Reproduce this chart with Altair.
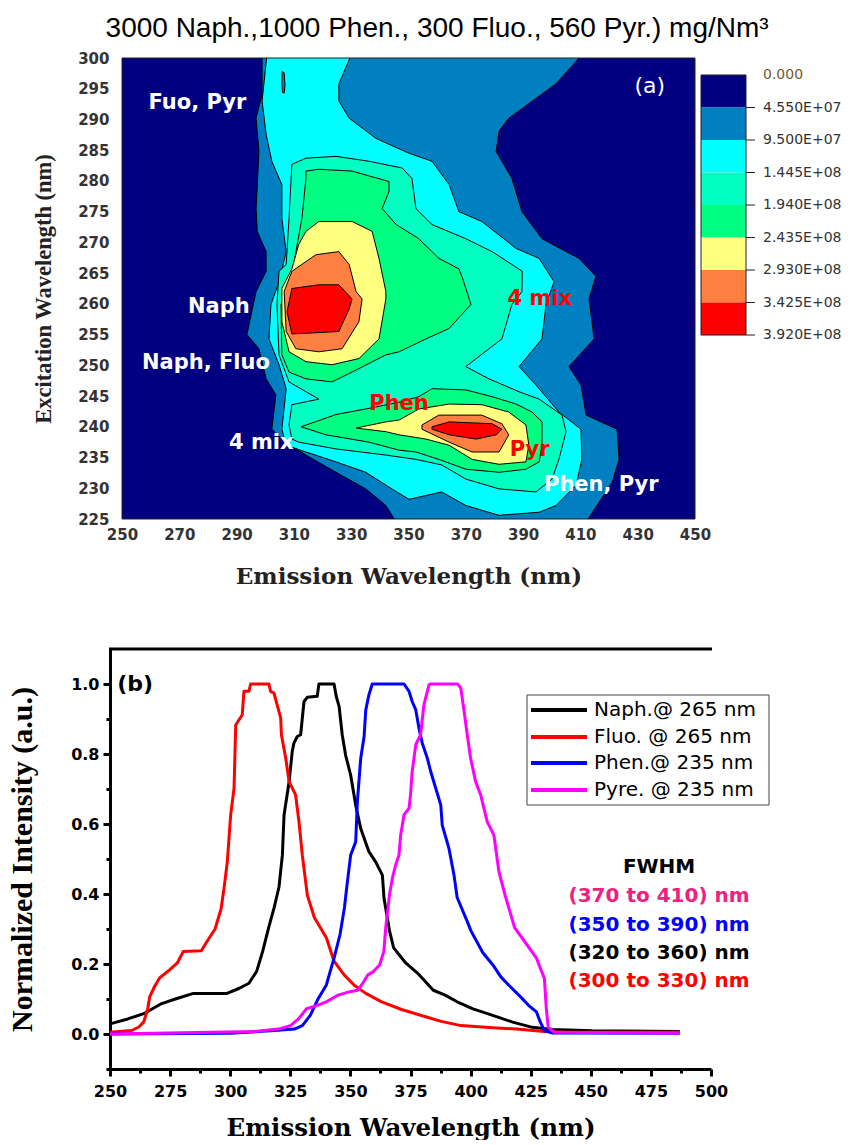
import altair as alt
import pandas as pd

SANS = "DejaVu Sans"
SERIF_H = "DejaVu Serif"
SERIF_V = "Liberation Serif"

# ================= Panel (a): excitation-emission contour map =================
title_a = "3000 Naph.,1000 Phen., 300 Fluo., 560 Pyr.) mg/Nm³"

level_colors = ["#000080", "#0080C0", "#00FFFF", "#00FFC0", "#00FF80",
                "#FFFF80", "#FF8040", "#FF0000"]
level_labels = ["0.000", "4.550E+07", "9.500E+07", "1.445E+08", "1.940E+08",
                "2.435E+08", "2.930E+08", "3.425E+08", "3.920E+08"]
level_label_colors = ["#6E5A28"] + ["#333333"] * 8

# contour outlines: (emission nm, excitation nm)
poly_l1 = [(298.9, 300.5), (298.9, 294.1), (296.8, 290.2), (297.8, 284.8), (296.8, 275.5),
           (297.2, 271.8), (300.3, 268.5), (300.3, 265.3), (296.8, 262.0), (293.6, 255.0),
           (297.8, 252.7), (300.3, 247.8), (303.7, 245.2), (302.3, 239.6), (305.8, 238.0),
           (314.2, 235.4), (324.7, 232.6), (335.1, 229.9), (342.1, 227.2), (345.7, 224.5),
           (412.0, 224.5), (416.5, 227.7), (421.1, 231.0), (423.5, 234.7), (422.8, 239.6),
           (412.0, 241.9), (410.2, 246.8), (406.0, 249.8), (414.8, 254.3), (413.0, 260.8),
           (415.4, 264.5), (409.5, 267.4), (396.6, 270.6), (389.6, 275.0), (386.1, 280.4),
           (380.6, 284.8), (381.6, 288.1), (385.0, 290.2), (401.5, 295.8), (410.5, 300.5)]
poly_l1_sliver = [(305.9, 297.8), (306.6, 297.6), (306.9, 295.5), (306.6, 294.3),
                  (306.0, 294.4), (305.8, 296.0)]
poly_l2 = [(300.6, 300.5), (298.9, 293.0), (300.3, 287.6), (302.3, 283.2), (305.8, 279.4),
           (305.8, 273.9), (307.3, 268.5), (304.8, 263.6), (302.0, 259.9), (301.3, 254.3),
           (304.8, 250.1), (307.3, 246.2), (305.8, 239.6), (307.3, 237.0), (314.2, 235.9),
           (324.7, 234.3), (335.1, 232.6), (344.2, 229.9), (350.2, 228.2), (361.6, 229.4),
           (370.0, 227.2), (381.6, 225.6), (395.6, 226.1), (401.5, 227.2), (408.5, 230.5),
           (410.5, 234.7), (410.2, 239.6), (402.5, 242.4), (394.5, 246.8), (388.6, 249.8),
           (396.6, 254.3), (398.0, 259.9), (400.8, 263.6), (395.6, 267.4), (387.6, 269.0),
           (375.6, 273.4), (367.6, 275.0), (364.2, 279.4), (358.2, 283.2), (350.2, 284.5),
           (338.7, 286.9), (329.3, 290.2), (325.7, 293.0), (325.7, 295.8), (330.0, 300.5)]
poly_l3 = [(309.3, 282.7), (314.2, 283.7), (324.7, 284.0), (336.2, 283.2), (347.8, 282.1),
           (351.2, 280.4), (352.6, 275.5), (358.2, 272.9), (370.0, 270.6), (379.2, 268.5),
           (389.7, 265.3), (389.6, 262.0), (386.1, 259.9), (382.6, 254.3), (370.0, 249.8),
           (378.1, 247.8), (388.6, 245.7), (395.6, 244.5), (403.6, 241.9), (405.0, 239.2),
           (402.5, 234.7), (400.1, 231.5), (394.5, 229.4), (381.6, 229.9), (370.0, 231.5),
           (361.6, 233.8), (352.6, 234.7), (342.1, 235.4), (324.7, 236.4), (311.7, 237.5),
           (309.3, 238.0), (308.3, 240.3), (309.3, 243.6), (318.7, 244.5), (308.3, 247.3),
           (304.8, 251.7), (304.1, 259.9), (304.8, 265.3), (307.3, 266.4), (308.3, 273.9)]
poly_l4_naph = [(314.2, 281.6), (318.7, 281.9), (330.3, 281.6), (343.2, 279.9), (343.2, 278.3),
                (340.8, 275.5), (345.7, 272.9), (353.6, 270.6), (360.6, 267.4), (367.6, 265.7),
                (369.0, 264.0), (371.8, 259.9), (364.2, 256.0), (356.1, 254.3), (346.7, 252.2),
                (342.1, 251.7), (330.3, 248.9), (323.3, 247.3), (314.2, 247.8), (308.3, 248.9),
                (305.8, 251.7), (305.5, 259.9), (308.3, 262.0), (310.7, 268.5), (312.8, 273.9),
                (314.2, 280.4)]
poly_l4_phen = [(312.5, 240.0), (324.7, 242.0), (336.2, 243.0), (346.7, 244.0), (353.6, 244.9),
                (358.2, 246.2), (370.0, 246.0), (379.2, 244.9), (387.6, 243.7), (393.1, 242.4),
                (396.6, 240.8), (396.6, 237.0), (395.6, 234.3), (391.0, 233.1), (381.6, 232.6),
                (370.0, 233.1), (360.6, 234.7), (352.6, 235.9), (346.7, 236.2), (336.2, 237.5),
                (321.2, 238.7)]
poly_l5_naph = [(314.2, 271.8), (318.7, 273.4), (330.3, 273.4), (337.3, 271.8), (339.7, 267.4),
                (342.1, 262.0), (342.1, 260.8), (339.7, 254.3), (332.7, 251.1), (323.3, 250.1),
                (314.2, 250.6), (308.3, 252.2), (305.8, 257.1), (305.8, 262.5), (309.3, 265.7),
                (311.7, 269.7)]
poly_l5_phen = [(331.7, 239.8), (342.1, 240.8), (346.7, 241.1), (353.6, 242.9), (364.2, 243.7),
                (375.6, 243.6), (385.0, 242.4), (391.0, 240.3), (392.0, 237.0), (391.0, 234.3),
                (381.6, 233.9), (372.2, 234.7), (364.2, 237.0), (356.1, 238.0), (346.7, 238.7),
                (342.1, 239.2)]
poly_l6_naph = [(309.3, 265.3), (317.7, 268.0), (325.7, 268.5), (329.3, 266.4), (331.7, 262.0),
                (333.8, 260.8), (332.7, 257.1), (326.8, 252.7), (318.7, 252.2), (310.7, 252.7),
                (307.3, 255.5), (306.6, 262.0)]
poly_l6_phen = [(354.7, 240.3), (360.6, 241.9), (375.6, 241.9), (382.6, 240.5), (385.0, 238.7),
                (381.6, 235.9), (372.2, 235.9), (364.2, 237.5), (354.7, 239.6)]
poly_l7_naph = [(309.3, 262.5), (318.7, 263.1), (325.7, 263.1), (330.3, 260.8), (329.3, 259.2),
                (325.7, 255.5), (309.3, 255.1), (307.6, 258.7)]
poly_l7_phen = [(358.2, 240.0), (364.2, 240.8), (379.2, 240.5), (382.6, 239.6), (380.6, 238.7),
                (373.6, 238.0), (364.2, 238.7), (358.2, 239.6)]

contours = [(1, poly_l1), (2, poly_l2), (1, poly_l1_sliver), (3, poly_l3),
            (4, poly_l4_naph), (4, poly_l4_phen), (5, poly_l5_naph), (5, poly_l5_phen),
            (6, poly_l6_naph), (6, poly_l6_phen), (7, poly_l7_naph), (7, poly_l7_phen)]

ann_text = ["Fuo, Pyr", "Naph", "Naph, Fluo", "4 mix", "Phen, Pyr", "4 mix", "Phen", "Pyr"]
ann_em = [276.3, 283.8, 279.3, 298.6, 417.3, 395.8, 346.7, 392.3]
ann_ex = [292.7, 259.5, 250.3, 237.4, 230.5, 260.8, 243.7, 236.2]
ann_color = ["white", "white", "white", "white", "white", "#FF0000", "#FF0000", "#FF0000"]
panel_a_tag = ("(a)", 434.2, 295.5)

# ================= Panel (b): normalized emission spectra =================
series_names = ["Naph.@ 265 nm", "Fluo. @ 265 nm", "Phen.@ 235 nm", "Pyre. @ 235 nm"]
series_colors = ["#000000", "#FF0000", "#0000FF", "#FF00FF"]

naph_pts = [(250, 0.029), (257.4, 0.043), (264, 0.058), (271.5, 0.087), (277.2, 0.1),
            (284.7, 0.116), (298.7, 0.116), (303.6, 0.13), (307.8, 0.145), (311, 0.179),
            (313.5, 0.236), (316, 0.304), (318.3, 0.362), (320.3, 0.42), (321.7, 0.511),
            (322.4, 0.626), (324.5, 0.721), (325.8, 0.807), (326.5, 0.831), (327.9, 0.85),
            (329.3, 0.855), (330.7, 0.95), (332.1, 0.962), (336.2, 0.965), (336.9, 1.0),
            (343.2, 1.0), (344.1, 0.965), (345.3, 0.936), (346.6, 0.855), (348, 0.797),
            (350.1, 0.74), (352.2, 0.654), (354.3, 0.587), (357.7, 0.521), (360.5, 0.492),
            (363.3, 0.454), (364, 0.387), (366.3, 0.294), (368, 0.246), (373, 0.203),
            (377.9, 0.174), (384.5, 0.125), (389.4, 0.111), (394.4, 0.092), (401, 0.072),
            (409.2, 0.053), (417.5, 0.034), (425.7, 0.019), (434, 0.013), (450.5, 0.009),
            (487, 0.007)]
fluo_pts = [(250, 0.005), (259, 0.01), (262, 0.02), (264, 0.034), (265.7, 0.072),
            (266.5, 0.106), (268.5, 0.135), (270.6, 0.16), (274.8, 0.183), (278, 0.203),
            (280.5, 0.236), (288, 0.238), (290.4, 0.265), (293.7, 0.3), (296.2, 0.357),
            (297.5, 0.42), (298.8, 0.492), (300.2, 0.626), (301.6, 0.702), (302.3, 0.883),
            (305, 0.912), (305.7, 0.979), (307.8, 0.979), (308.5, 1.0), (316.1, 1.0),
            (316.8, 0.979), (318.2, 0.974), (321, 0.903), (321.3, 0.855), (323.1, 0.788),
            (324.5, 0.721), (327.2, 0.683), (328.6, 0.607), (330, 0.511), (332.1, 0.396),
            (335, 0.333), (340, 0.275), (343.2, 0.208), (347.4, 0.169), (351.5, 0.14),
            (356.4, 0.116), (363, 0.092), (371.3, 0.07), (379.5, 0.053), (387.8, 0.036),
            (396, 0.024), (409.2, 0.018), (419, 0.014), (430.7, 0.007), (442, 0.005),
            (487, 0.005)]
phen_pts = [(250, 0.0), (300, 0.002), (318.5, 0.01), (326.7, 0.014), (330, 0.024),
            (333.3, 0.053), (336.6, 0.101), (340, 0.14), (341.6, 0.179), (343.2, 0.217),
            (345.7, 0.285), (347.5, 0.36), (348.5, 0.42), (350.1, 0.511), (352.2, 0.549),
            (352.9, 0.664), (354.3, 0.788), (355.7, 0.85), (356.4, 0.926), (357.7, 0.969),
            (359.1, 1.0), (372.3, 1.0), (374.4, 0.979), (375.7, 0.95), (377.2, 0.926),
            (378.5, 0.874), (379.9, 0.831), (382, 0.788), (383.4, 0.75), (385.5, 0.702),
            (387.6, 0.654), (388.2, 0.597), (391, 0.53), (393.1, 0.454), (394.4, 0.39),
            (398.5, 0.323), (400.2, 0.294), (405.1, 0.232), (409.2, 0.198), (412.5, 0.164),
            (415.8, 0.14), (420.8, 0.106), (424.1, 0.082), (427.4, 0.063), (429, 0.034),
            (430.7, 0.01), (434, 0.003), (487, 0.002)]
pyre_pts = [(250, 0.0), (310.2, 0.007), (320.1, 0.014), (325.1, 0.024), (328.4, 0.043),
            (331.7, 0.072), (334.2, 0.077), (340, 0.092), (344.9, 0.111), (349.8, 0.121),
            (353.1, 0.125), (355.6, 0.15), (357.3, 0.169), (359.7, 0.179), (362.2, 0.198),
            (363.9, 0.236), (364.7, 0.304), (366.3, 0.4), (367.6, 0.45), (368.8, 0.482),
            (370.2, 0.511), (370.9, 0.568), (372.3, 0.626), (374.4, 0.645), (375, 0.683),
            (375.7, 0.75), (377.2, 0.826), (377.8, 0.836), (379.2, 0.855), (380.6, 0.941),
            (382.7, 0.998), (383.4, 1.0), (394.5, 1.0), (395.9, 0.989), (397.3, 0.922),
            (398.6, 0.855), (400, 0.788), (402.1, 0.721), (404.2, 0.683), (406.9, 0.607),
            (409.7, 0.568), (411.8, 0.463), (414.2, 0.4), (418.3, 0.304), (422.4, 0.265),
            (427.4, 0.217), (429, 0.188), (430.7, 0.159), (431.5, 0.072), (432.3, 0.019),
            (434.8, 0.005), (487, 0.003)]
series_pts = [naph_pts, fluo_pts, phen_pts, pyre_pts]

fwhm_text = ["FWHM", "(370 to 410) nm", "(350 to 390) nm", "(320 to 360) nm", "(300 to 330) nm"]
fwhm_color = ["#000000", "#F0207F", "#0000FF", "#000000", "#FF0000"]
fwhm_val = [0.478, 0.393, 0.312, 0.232, 0.152]
fwhm_nm = 478.4
panel_b_tag = ("(b)", 253.0, 1.0)

# ================= build panel (a) =================
OFF = 12                      # plot area starts OFF px right of the panel origin
WA, HA = 573, 461
xs_a = alt.Scale(domain=[250, 450], range=[OFF, OFF + WA], nice=False, zero=False)
ys_a = alt.Scale(domain=[225, 300], nice=False, zero=False)
xa_vals = list(range(250, 451, 20))
ya_vals = list(range(225, 301, 5))
ax_xa = alt.Axis(values=xa_vals, tickCount=len(xa_vals), ticks=False, domain=False, grid=False,
                 labelFont=SANS, labelFontWeight="bold", labelFontSize=15, labelColor="#333333",
                 labelPadding=8, labelFlush=False, labelOverlap=False,
                 titleFont=SERIF_H, titleFontWeight="bold", titleFontSize=23, titleColor="#222222",
                 titlePadding=23)
ax_ya = alt.Axis(values=ya_vals, tickCount=len(ya_vals), ticks=False, domain=False, grid=False,
                 labelFont=SANS, labelFontWeight="bold", labelFontSize=15, labelColor="#333333",
                 labelPadding=1, labelFlush=False, labelOverlap=False,
                 titleFont=SERIF_V, titleFontWeight="bold", titleFontSize=22.5, titleColor="#222222",
                 titlePadding=22)

one = pd.DataFrame({"a": [0]})
bg = alt.Chart(one).mark_rect(color=level_colors[0]).encode(
    x=alt.value(OFF), x2=alt.value(OFF + WA), y=alt.value(0), y2=alt.value(HA))

layers_a = [bg]
for lvl, pts in contours:
    closed = pts + [pts[0]]
    df = pd.DataFrame({"em": [p[0] for p in closed], "ex": [p[1] for p in closed],
                       "k": list(range(len(closed)))})
    layers_a.append(
        alt.Chart(df).mark_line(fill=level_colors[lvl], stroke="black", strokeWidth=1,
                                clip=True, strokeJoin="round").encode(
            x=alt.X("em:Q", scale=xs_a, axis=ax_xa, title="Emission Wavelength (nm)"),
            y=alt.Y("ex:Q", scale=ys_a, axis=ax_ya, title="Excitation Wavelength (nm)"),
            order="k:Q"))

ann_df = pd.DataFrame({"t": ann_text, "em": ann_em, "ex": ann_ex, "c": ann_color})
layers_a.append(alt.Chart(ann_df).mark_text(font=SANS, fontWeight="bold", fontSize=21,
                                            align="center", baseline="middle").encode(
    x=alt.X("em:Q", scale=xs_a), y=alt.Y("ex:Q", scale=ys_a), text="t:N",
    color=alt.Color("c:N", scale=None)))
tag_df = pd.DataFrame({"t": [panel_a_tag[0]], "em": [panel_a_tag[1]], "ex": [panel_a_tag[2]]})
layers_a.append(alt.Chart(tag_df).mark_text(font=SANS, fontSize=22, color="white",
                                            align="center", baseline="middle").encode(
    x=alt.X("em:Q", scale=xs_a), y=alt.Y("ex:Q", scale=ys_a), text="t:N"))
layers_a.append(alt.Chart(one).mark_rect(fillOpacity=0, stroke="#222222", strokeWidth=1).encode(
    x=alt.value(OFF), x2=alt.value(OFF + WA), y=alt.value(0), y2=alt.value(HA)))

contour = alt.layer(*layers_a).properties(width=OFF + WA, height=HA)

# colour bar
cb_scale = alt.Scale(domain=[-0.523, 13.66], reverse=True, nice=False, zero=False)
cb_df = pd.DataFrame({"lo": list(range(8)), "hi": list(range(1, 9)), "c": level_colors})
cb_boxes = alt.Chart(cb_df).mark_rect().encode(
    y=alt.Y("lo:Q", scale=cb_scale, axis=None), y2="hi:Q",
    x=alt.value(0), x2=alt.value(45), color=alt.Color("c:N", scale=None))
cb_frame = alt.Chart(pd.DataFrame({"lo": [0], "hi": [8]})).mark_rect(
    fillOpacity=0, stroke="#222222", strokeWidth=1).encode(
    y=alt.Y("lo:Q", scale=cb_scale, axis=None), y2="hi:Q", x=alt.value(0), x2=alt.value(45))
cb_lab_df = pd.DataFrame({"pos": list(range(9)), "t": level_labels, "c": level_label_colors})
cb_ticks = alt.Chart(cb_lab_df[cb_lab_df.pos > 0]).mark_rule(color="#222222", strokeWidth=1).encode(
    y=alt.Y("pos:Q", scale=cb_scale, axis=None), x=alt.value(45), x2=alt.value(54))
cb_labels = alt.Chart(cb_lab_df).mark_text(font=SANS, fontSize=14, align="left",
                                           baseline="middle").encode(
    y=alt.Y("pos:Q", scale=cb_scale, axis=None), x=alt.value(62), text="t:N",
    color=alt.Color("c:N", scale=None))
colorbar = alt.layer(cb_boxes, cb_frame, cb_ticks, cb_labels).properties(width=60, height=HA)

top = alt.hconcat(contour, colorbar, spacing=6, bounds="flush").properties(
    title=alt.TitleParams(title_a, font="Liberation Sans", fontSize=28,
                          fontWeight="normal", color="black", anchor="middle", offset=8))

# ================= build panel (b) =================
WB, HB = 601, 420
xs_b = alt.Scale(domain=[250, 500], nice=False, zero=False)
ys_b = alt.Scale(domain=[-0.1, 1.1], nice=False, zero=False)
x_ticks_b = [250 + 12.5 * i for i in range(21)]
y_ticks_b = [-0.1, 0.0, 0.1, 0.2, 0.3, 0.4, 0.5, 0.6, 0.7, 0.8, 0.9, 1.0]
ax_xb = alt.Axis(values=x_ticks_b, tickCount=len(x_ticks_b), grid=False,
                 labelExpr="datum.value % 25 == 0 ? datum.label : ''",
                 tickSize={"condition": {"test": "datum.value % 25 == 0", "value": 7}, "value": 4},
                 tickWidth=3, tickColor="black", domainWidth=3, domainColor="black",
                 labelFont=SANS, labelFontWeight="bold", labelFontSize=16, labelColor="black",
                 labelPadding=7, labelFlush=False, labelOverlap=False,
                 titleFont=SERIF_H, titleFontWeight="bold", titleFontSize=24.5, titleColor="black",
                 titlePadding=17)
ax_yb = alt.Axis(values=y_ticks_b, tickCount=len(y_ticks_b), grid=False,
                 labelExpr="abs(round(datum.value*10)) % 2 == 0 ? format(datum.value, '.1f') : ''",
                 tickSize={"condition": {"test": "abs(round(datum.value*10)) % 2 == 0", "value": 7},
                           "value": 4},
                 tickWidth=3, tickColor="black", domainWidth=3, domainColor="black",
                 labelFont=SANS, labelFontWeight="bold", labelFontSize=16, labelColor="black",
                 labelPadding=4, labelFlush=False, labelOverlap=False,
                 titleFont=SERIF_V, titleFontWeight="bold", titleFontSize=30, titleColor="black",
                 titlePadding=33)

layers_b = []
for name, col, pts in zip(series_names, series_colors, series_pts):
    df = pd.DataFrame({"nm": [p[0] for p in pts], "v": [p[1] for p in pts],
                       "k": list(range(len(pts)))})
    layers_b.append(alt.Chart(df).mark_line(color=col, strokeWidth=3, strokeJoin="round").encode(
        x=alt.X("nm:Q", scale=xs_b, axis=ax_xb, title="Emission Wavelength (nm)"),
        y=alt.Y("v:Q", scale=ys_b, axis=ax_yb, title="Normalized Intensity (a.u.)"),
        order="k:Q"))

# top frame line
layers_b.append(alt.Chart(one).mark_rule(color="black", strokeWidth=3).encode(
    y=alt.value(0), x=alt.value(-1), x2=alt.value(WB + 1)))

# legend box (guide drawn from the series lists)
layers_b.append(alt.Chart(one).mark_rect(fillOpacity=0, stroke="#444444", strokeWidth=1).encode(
    x=alt.value(417), x2=alt.value(659), y=alt.value(46), y2=alt.value(156)))
row_y = [61, 88, 114, 141]
for name, col, ry in zip(series_names, series_colors, row_y):
    layers_b.append(alt.Chart(one).mark_rule(color=col, strokeWidth=4).encode(
        x=alt.value(421), x2=alt.value(477), y=alt.value(ry)))
    layers_b.append(alt.Chart(one).mark_text(text=name, font=SANS, fontSize=20, color="black",
                                             align="left", baseline="middle").encode(
        x=alt.value(484), y=alt.value(ry)))

fw_df = pd.DataFrame({"t": fwhm_text, "v": fwhm_val, "c": fwhm_color,
                      "nm": [fwhm_nm] * len(fwhm_text)})
layers_b.append(alt.Chart(fw_df).mark_text(font=SANS, fontWeight="bold", fontSize=20,
                                           align="center", baseline="middle").encode(
    x=alt.X("nm:Q", scale=xs_b), y=alt.Y("v:Q", scale=ys_b), text="t:N",
    color=alt.Color("c:N", scale=None)))
tagb = pd.DataFrame({"t": [panel_b_tag[0]], "nm": [panel_b_tag[1]], "v": [panel_b_tag[2]]})
layers_b.append(alt.Chart(tagb).mark_text(font=SANS, fontWeight="bold", fontSize=22, color="black",
                                          align="left", baseline="middle").encode(
    x=alt.X("nm:Q", scale=xs_b), y=alt.Y("v:Q", scale=ys_b), text="t:N"))

bottom = alt.layer(*layers_b).properties(width=WB, height=HB)

chart = alt.vconcat(top, bottom, spacing=59).properties(
    padding={"left": 7, "top": 15, "right": 0, "bottom": 0},
    background="white"
).configure_view(strokeWidth=0)

chart.save("out.html", embed_options={"renderer": "svg", "actions": False})
